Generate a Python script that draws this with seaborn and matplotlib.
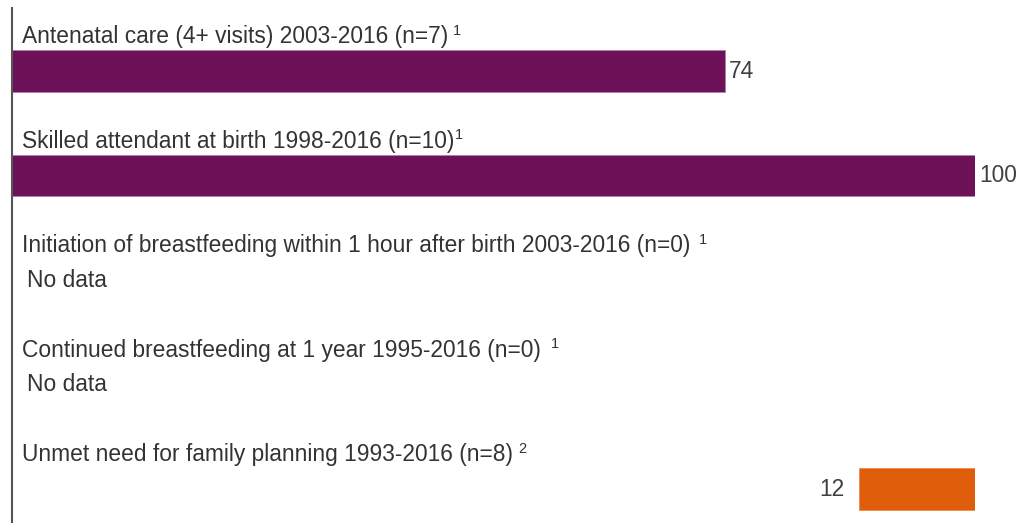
import matplotlib
matplotlib.use("Agg")
import matplotlib.pyplot as plt
import seaborn as sns
import pandas as pd
import numpy as np

categories = [
    "Antenatal care (4+ visits) 2003-2016 (n=7)",
    "Skilled attendant at birth 1998-2016 (n=10)",
    "Initiation of breastfeeding within 1 hour after birth 2003-2016 (n=0)",
    "Continued breastfeeding at 1 year 1995-2016 (n=0)",
    "Unmet need for family planning 1993-2016 (n=8)",
]
values = [74, 100, np.nan, np.nan, 12]
footnotes = ["1", "1", "1", "1", "2"]
reversed_bar = [False, False, False, False, True]
value_labels = ["74", "100", "", "", "12"]
no_data_label = "No data"

# styles
bar_colors = ["#6D1159", "#6D1159", "#6D1159", "#6D1159", "#DF5C0B"]
footnote_gaps = [5, 1, 9, 10, 6]  # pixels

sns.set_theme(style="white")
plt.rcParams["font.family"] = ["Liberation Sans", "DejaVu Sans"]

df = pd.DataFrame({"category": categories, "value": values})

fig = plt.figure(figsize=(10.22, 5.23), dpi=100)
ax = fig.add_axes([12 / 1022, 0, 963 / 1022, 515 / 523])

sns.barplot(data=df, x="value", y="category", order=categories, hue="category",
            hue_order=categories, palette=bar_colors, orient="h", width=0.4,
            saturation=1, legend=False, ax=ax, edgecolor="#B77DAA", linewidth=0.6)

# shift reversed bars so they end at the right edge (100)
for p in ax.patches:
    w = p.get_width()
    if np.isnan(w):
        continue
    idx = int(round(p.get_y() + p.get_height() / 2))
    if reversed_bar[idx]:
        p.set_x(100 - w)
        p.set_edgecolor("#F08A4B")

ax.set_xlim(0, 100)
ax.set_ylim(4.325, -0.603)
ax.set_xlabel("")
ax.set_ylabel("")
ax.set_xticks([])
ax.set_yticks([])
for s in ["top", "right", "bottom"]:
    ax.spines[s].set_visible(False)
ax.spines["left"].set_color("#555555")
ax.spines["left"].set_linewidth(1.5)

fs = 16.4
for i, cat in enumerate(categories):
    t = ax.text(1.0, i - 0.327, cat, fontsize=fs, color="#333333", va="center", ha="left")
    ax.annotate(footnotes[i], xy=(1, 1), xycoords=t,
                xytext=(footnote_gaps[i] * 0.72, 1), textcoords="offset points",
                fontsize=10.5, color="#333333", ha="left", va="top")
    v = values[i]
    if np.isnan(v):
        ax.text(1.6, i, no_data_label, fontsize=fs, color="#333333", va="center", ha="left")
    elif reversed_bar[i]:
        ax.text(100 - v - 1.6, i, value_labels[i], fontsize=fs, color="#404040",
                va="center", ha="right")
    else:
        ax.text(v + 0.45, i, value_labels[i], fontsize=fs, color="#404040",
                va="center", ha="left")

fig.savefig("out.png", dpi=100)
